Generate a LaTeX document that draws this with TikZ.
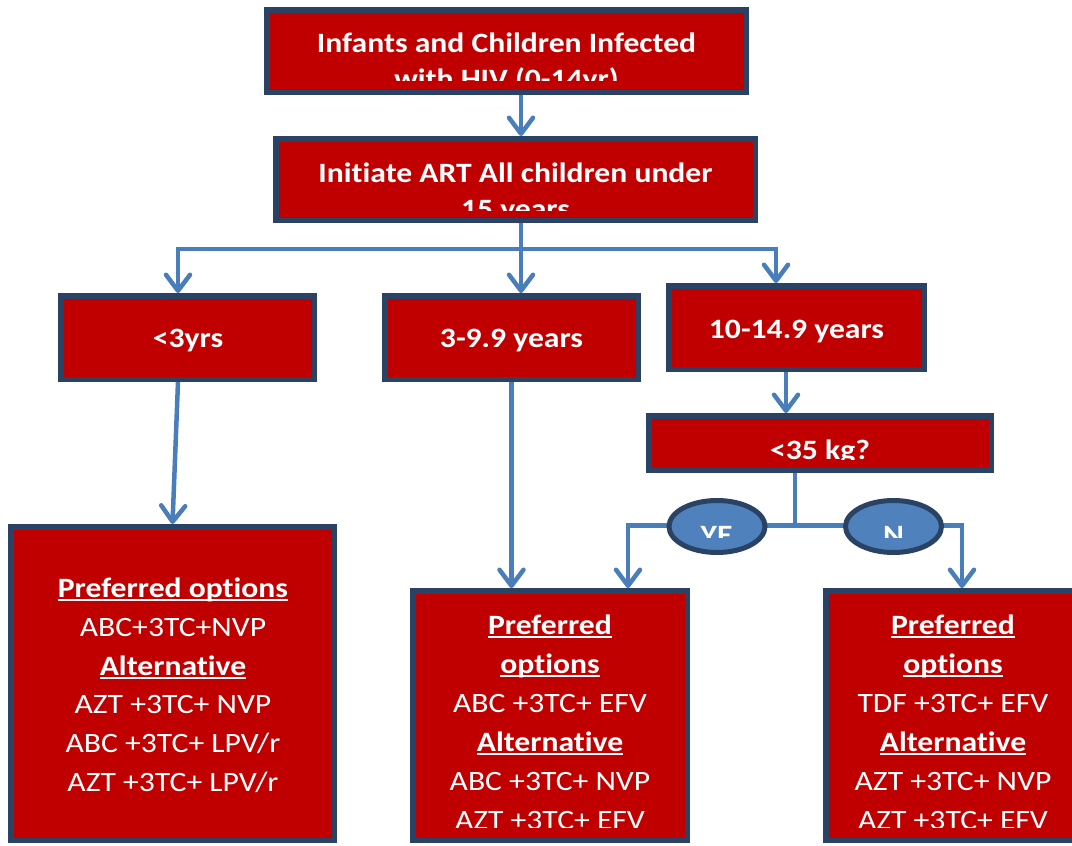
\documentclass[tikz,border=0pt]{standalone}
\usepackage{fontspec}
\setmainfont{Carlito}[FakeStretch=1.13,Ligatures=NoCommon]
\usetikzlibrary{arrows.meta,shapes.geometric}
\definecolor{boxred}{HTML}{C00000}
\definecolor{navy}{HTML}{2A4365}
\definecolor{lnblue}{HTML}{4A7EBB}
\definecolor{ellblue}{HTML}{4F81BD}
\newcommand\ulx[1]{\setbox0\hbox{#1}\rlap{\rule[-3.5pt]{\wd0}{2pt}}\box0}
\begin{document}
\begin{tikzpicture}[x=1pt,y=-1pt,
  box/.style={rectangle, draw=navy, fill=boxred, line width=5.5pt, inner sep=0pt},
  oval/.style={ellipse, draw=navy, fill=ellblue, line width=5pt, inner sep=0pt, minimum width=96pt, minimum height=52pt},
  txt/.style={text=white, inner sep=0pt, anchor=base, font=\fontsize{28}{34}\selectfont\bfseries},
  reg/.style={text=white, inner sep=0pt, anchor=base, font=\fontsize{28}{34}\selectfont},
  ln/.style={draw=lnblue, line width=4.5pt, line join=miter},
  arr/.style={ln, -{Straight Barb[length=16pt,width=24pt,line join=round,line cap=round]}}]
\useasboundingbox (0,0) rectangle (1072,846);
% boxes
\node[box, minimum width=479.5pt, minimum height=82.5pt] (b1) at (506.5,51) {};
\node[box, minimum width=479.5pt, minimum height=81.5pt] (b2) at (515.5,179.5) {};
\node[box, minimum width=253.5pt, minimum height=83.5pt] (b3a) at (187.5,337.5) {};
\node[box, minimum width=253.5pt, minimum height=83.5pt] (b3b) at (511.5,337.5) {};
\node[box, minimum width=255.5pt, minimum height=83.5pt] (b3c) at (796.5,327.5) {};
\node[box, minimum width=342.5pt, minimum height=54.5pt] (bkg) at (820,443) {};
\node[box, minimum width=323.5pt, minimum height=313.5pt] (bl) at (172.5,683.5) {};
\node[box, minimum width=274.5pt, minimum height=249.5pt] (bm) at (550,715.5) {};
\node[box, minimum width=256.5pt, minimum height=249.5pt] (br) at (954,715.5) {};
% coordinates for connectors
\coordinate (c1) at (521,115);
\coordinate (j1) at (521,249);
\coordinate (jl) at (178,249);
\coordinate (jr) at (776,249);
\coordinate (k1) at (786,390);
\coordinate (ky) at (795,525.5);
\coordinate (yl) at (628,525.5);
\coordinate (yr) at (962,525.5);
% connectors
\draw[arr] (b1.south -| c1) -- (b2.north -| c1);
\draw[arr] (b2.south -| j1) -- (b3b.north -| j1);
\draw[arr] (j1) -- (jl) -- (jl |- b3a.north);
\draw[arr] (j1) -- (jr) -- (jr |- b3c.north);
\draw[arr] (b3a.south -| jl) -- (bl.north);
\draw[arr] (b3b.south) -- (b3b.south |- bm.north);
\draw[arr] (b3c.south -| k1) -- (bkg.north -| k1);
\draw[ln] (bkg.south -| ky) -- (ky);
\draw[arr] (ky) -- (yl) -- (yl |- bm.north);
\draw[arr] (ky) -- (yr) -- (yr |- br.north);
% ovals
\node[oval] (ye) at (717,526.5) {};
\node[oval] (no) at (893.5,526.5) {};
% texts
\begin{scope}
\clip (267,10) rectangle (746,80);
\node[txt] (t1a) at (506.5,52) {Infants and Children Infected};
\node[txt] (t1b) at (506.5,88) {with HIV (0-14yr)};
\end{scope}
\begin{scope}
\clip (276,139) rectangle (755,210);
\node[txt] (t2a) at (515.5,182) {Initiate ART All children under};
\node[txt] (t2b) at (515.5,218) {15 years};
\end{scope}
\node[txt] (t3a) at (188,347) {<3yrs};
\node[txt] (t3b) at (511.5,347) {3-9.9 years};
\node[txt] (t3c) at (796.5,338) {10-14.9 years};
\begin{scope}
\clip (649,416) rectangle (991,459.5);
\node[txt] (tkg) at (820,459) {<35 kg?};
\end{scope}
\begin{scope}
\clip (667,499) rectangle (945,537);
\node[txt] (tye) at (716.5,544) {YE};
\node[txt] (tno) at (893.5,544) {N};
\end{scope}
% bottom left
\node[txt] (l1) at (173,597) {\ulx{Preferred options}};
\node[reg] (l2) at (173,636) {ABC+3TC+NVP};
\node[txt] (l3) at (173,675) {\ulx{Alternative}};
\node[reg] (l4) at (173,713) {AZT +3TC+ NVP};
\node[reg] (l5) at (173,752) {ABC +3TC+ LPV/r};
\node[reg] (l6) at (173,791) {AZT +3TC+ LPV/r};
% bottom middle
\begin{scope}
\clip (413,591) rectangle (687,827.5);
\node[txt] (m1) at (550,634) {\ulx{Preferred}};
\node[txt] (m2) at (550,673) {\ulx{options}};
\node[reg] (m3) at (550,712) {ABC +3TC+ EFV};
\node[txt] (m4) at (550,751) {\ulx{Alternative}};
\node[reg] (m5) at (550,790) {ABC +3TC+ NVP};
\node[reg] (m6) at (550,829) {AZT +3TC+ EFV};
\end{scope}
% bottom right
\begin{scope}
\clip (826,591) rectangle (1083,827.5);
\node[txt] (r1) at (953,634) {\ulx{Preferred}};
\node[txt] (r2) at (953,673) {\ulx{options}};
\node[reg] (r3) at (953,712) {TDF +3TC+ EFV};
\node[txt] (r4) at (953,751) {\ulx{Alternative}};
\node[reg] (r5) at (953,790) {AZT +3TC+ NVP};
\node[reg] (r6) at (953,829) {AZT +3TC+ EFV};
\end{scope}
\end{tikzpicture}
\end{document}
